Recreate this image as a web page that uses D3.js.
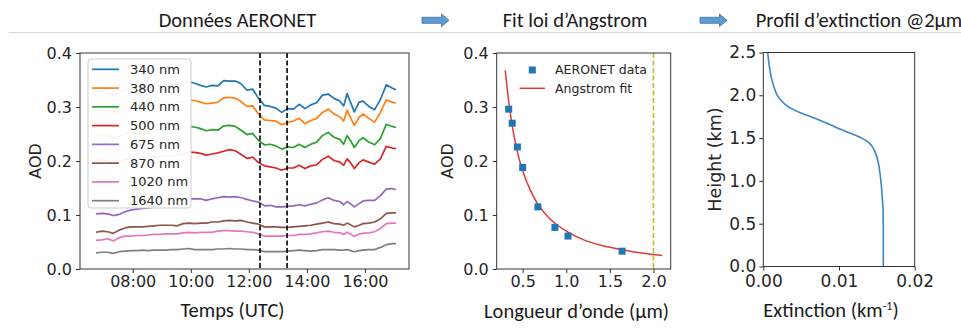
<!DOCTYPE html>
<html>
<head>
<meta charset="utf-8">
<script src="https://cdn.jsdelivr.net/npm/d3@7"></script>
<style>
html,body{margin:0;padding:0;background:#fff;}
svg{display:block;}
</style>
</head>
<body>
<div id="chart"></div>
<script>
// ---------------- DATA ----------------
const headerTitles = ["Données AERONET", "Fit loi d’Angstrom", "Profil d’extinction @2µm"];

const times = ["06:44","06:56","07:08","07:20","07:32","07:44","07:56","08:08","08:20","08:32",
  "08:44","08:56","09:08","09:20","09:32","09:44","09:56","10:08","10:20","10:32",
  "10:44","10:56","11:08","11:20","11:32","11:44","11:56","12:08","12:20","12:32",
  "12:44","12:56","13:08","13:20","13:32","13:44","13:56","14:08","14:20","14:32",
  "14:44","14:56","15:08","15:16","15:23","15:30","15:38","15:48","15:56","16:08",
  "16:20","16:32","16:44","16:56","17:04"];

const seriesNames = ["340 nm","380 nm","440 nm","500 nm","675 nm","870 nm","1020 nm","1640 nm"];

const aod340 = [0.330,0.328,0.326,0.322,0.326,0.331,0.334,0.336,0.337,0.336,0.338,0.340,0.339,0.341,0.342,0.345,0.347,
  0.344,0.340,0.337,0.340,0.339,0.349,0.348,0.348,0.343,0.331,0.333,0.316,0.303,0.301,0.298,0.290,0.297,0.296,
  0.305,0.297,0.304,0.308,0.322,0.324,0.316,0.311,0.302,0.325,0.309,0.291,0.309,0.311,0.301,0.295,0.314,0.341,0.335,0.332];
const aod380 = [0.297,0.295,0.293,0.290,0.293,0.298,0.300,0.302,0.303,0.302,0.304,0.306,0.305,0.307,0.308,0.311,0.313,
  0.312,0.309,0.306,0.307,0.309,0.317,0.318,0.316,0.310,0.301,0.302,0.287,0.276,0.275,0.274,0.267,0.271,0.274,
  0.279,0.269,0.275,0.279,0.290,0.296,0.287,0.282,0.274,0.294,0.281,0.266,0.281,0.287,0.279,0.272,0.290,0.313,0.309,0.307];
const aod440 = [0.250,0.248,0.246,0.243,0.246,0.250,0.252,0.253,0.254,0.253,0.255,0.257,0.256,0.258,0.259,0.261,0.263,
  0.263,0.260,0.256,0.258,0.257,0.265,0.266,0.264,0.257,0.249,0.251,0.238,0.230,0.231,0.228,0.222,0.226,0.225,
  0.231,0.225,0.231,0.235,0.247,0.253,0.244,0.240,0.231,0.247,0.238,0.225,0.238,0.243,0.235,0.230,0.242,0.268,0.264,0.262];
const aod500 = [0.203,0.201,0.200,0.197,0.199,0.203,0.205,0.206,0.207,0.206,0.208,0.209,0.208,0.210,0.211,0.214,0.216,
  0.216,0.214,0.211,0.213,0.215,0.218,0.221,0.219,0.212,0.205,0.207,0.197,0.191,0.189,0.187,0.183,0.187,0.187,
  0.192,0.186,0.191,0.193,0.203,0.209,0.201,0.198,0.192,0.204,0.197,0.186,0.197,0.202,0.198,0.194,0.204,0.227,0.224,0.223];
const aod675 = [0.102,0.103,0.102,0.099,0.101,0.106,0.109,0.111,0.112,0.113,0.115,0.118,0.120,0.122,0.124,0.127,0.130,
  0.130,0.130,0.127,0.130,0.132,0.134,0.133,0.134,0.132,0.129,0.126,0.124,0.117,0.118,0.115,0.115,0.116,0.117,
  0.119,0.117,0.120,0.122,0.128,0.132,0.127,0.125,0.119,0.125,0.121,0.115,0.121,0.126,0.127,0.127,0.136,0.148,0.149,0.147];
const aod870 = [0.068,0.070,0.069,0.066,0.072,0.076,0.078,0.078,0.078,0.079,0.080,0.081,0.081,0.081,0.080,0.084,0.085,
  0.084,0.085,0.085,0.087,0.087,0.089,0.090,0.089,0.090,0.087,0.085,0.083,0.078,0.078,0.078,0.077,0.077,0.078,
  0.079,0.080,0.081,0.083,0.085,0.087,0.084,0.083,0.081,0.085,0.082,0.078,0.081,0.084,0.085,0.087,0.093,0.103,0.104,0.104];
const aod1020 = [0.053,0.054,0.056,0.052,0.058,0.061,0.061,0.062,0.062,0.063,0.064,0.064,0.065,0.065,0.065,0.067,0.068,
  0.067,0.068,0.068,0.068,0.070,0.071,0.071,0.070,0.070,0.069,0.068,0.065,0.061,0.061,0.061,0.061,0.062,0.062,
  0.064,0.064,0.065,0.067,0.069,0.070,0.068,0.067,0.064,0.068,0.065,0.060,0.065,0.066,0.067,0.069,0.075,0.084,0.085,0.085];
const aod1640 = [0.030,0.031,0.031,0.029,0.032,0.033,0.034,0.034,0.035,0.034,0.035,0.035,0.035,0.036,0.036,0.037,0.038,
  0.036,0.036,0.036,0.036,0.037,0.037,0.038,0.037,0.037,0.036,0.036,0.035,0.032,0.032,0.032,0.032,0.033,0.034,
  0.035,0.034,0.033,0.034,0.036,0.036,0.036,0.035,0.035,0.036,0.034,0.032,0.034,0.035,0.036,0.036,0.040,0.045,0.047,0.047];

const seriesColors = ["#1f77b4","#ff7f0e","#2ca02c","#d62728","#9467bd","#8c564b","#e377c2","#7f7f7f"];
const selectionTimes = ["12:23","13:19"];
const timeTicks = ["08:00","10:00","12:00","14:00","16:00"];
const aodTicks = [0.0,0.1,0.2,0.3,0.4];

// Angstrom fit panel
const aeronetLambda = [0.34,0.38,0.44,0.50,0.675,0.87,1.02,1.64];
const aeronetAOD    = [0.296,0.270,0.226,0.188,0.115,0.077,0.061,0.033];
const fitLambda = [0.30,0.35,0.40,0.45,0.50,0.60,0.70,0.80,0.90,1.00,1.20,1.40,1.60,1.80,2.00,2.10];
const fitAOD    = [0.368,0.298,0.248,0.210,0.182,0.142,0.114,0.095,0.081,0.070,0.054,0.044,0.037,0.031,0.027,0.025];
const lambdaTicks = [0.5,1.0,1.5,2.0];
const targetLambda = 2.0;

// Extinction profile panel
const profileHeight = [0.00,0.20,0.40,0.60,0.70,0.80,0.90,1.00,1.10,1.20,1.28,1.35,1.40,1.45,1.50,1.55,1.60,
  1.65,1.70,1.75,1.80,1.85,1.90,1.95,2.00,2.10,2.20,2.30,2.40,2.50];
const profileExt = [0.01585,0.01585,0.01585,0.01583,0.01580,0.01572,0.01564,0.01553,0.01540,0.01522,0.01500,
  0.01470,0.01440,0.01390,0.01300,0.01170,0.01030,0.00900,0.00770,0.00630,0.00480,0.00360,0.00280,0.00225,
  0.00185,0.00140,0.00108,0.00087,0.00071,0.00058];
const heightTicks = [0.0,0.5,1.0,1.5,2.0,2.5];
const extTicks = [0.00,0.01,0.02];

// ---------------- DRAW ----------------
const W = 961, H = 331;
const mplFont = "'DejaVu Sans', sans-serif";
const officeFont = "Carlito, Calibri, Lato, 'Open Sans', sans-serif";
const ink = "#262626";

const svg = d3.select("#chart").append("svg").attr("width", W).attr("height", H)
  .style("background", "#fff");

// header
const hdrX = [237.5, 575, 859];
svg.selectAll("text.hdr").data(headerTitles).join("text")
  .attr("class","hdr")
  .attr("x",(d,i)=>hdrX[i]).attr("y",26.5)
  .attr("text-anchor","middle")
  .attr("font-family",officeFont).attr("font-size",20.5).attr("fill","#1a1a1a")
  .text(d=>d);
svg.append("line").attr("x1",9).attr("x2",961).attr("y1",32.5).attr("y2",32.5)
  .attr("stroke","#d9d9d9").attr("stroke-width",1);
function arrow(x0){
  const x1 = x0+27, hx = x0+19.5, yc = 20.3;
  const pts = [[x0,yc-3],[hx,yc-3],[hx,yc-6.3],[x1,yc],[hx,yc+6.3],[hx,yc+3],[x0,yc+3]];
  svg.append("polygon").attr("points",pts.map(p=>p.join(",")).join(" "))
    .attr("fill","#5b9bd5").attr("stroke","#41719c").attr("stroke-width",0.8);
}
arrow(422); arrow(700);

function styleAxis(g, fontSize){
  g.selectAll(".domain").remove();
  g.selectAll(".tick line").attr("stroke","#333").attr("stroke-width",1);
  g.selectAll(".tick text").attr("font-family",mplFont).attr("font-size",fontSize).attr("fill",ink);
}
function frame(x0,x1,y0,y1){
  svg.append("rect").attr("x",x0).attr("y",y0).attr("width",x1-x0).attr("height",y1-y0)
    .attr("fill","none").attr("stroke","#333").attr("stroke-width",1);
}

// ---------- Panel 1: AERONET time series ----------
const parseT = d3.timeParse("%H:%M");
const p1 = {x0:80, x1:409, y0:53, y1:269};
const xT = d3.scaleTime().domain([parseT("06:11"), parseT("17:31")]).range([p1.x0,p1.x1]);
const yA = d3.scaleLinear().domain([0,0.4]).range([p1.y1,p1.y0]);
const tDates = times.map(parseT);
const allSeries = [aod340,aod380,aod440,aod500,aod675,aod870,aod1020,aod1640];

const line1 = d3.line().x((d,i)=>xT(tDates[i])).y(d=>yA(d));
const g1 = svg.append("g");
g1.selectAll("path.ts").data(allSeries).join("path")
  .attr("class","ts").attr("d",d=>line1(d)).attr("fill","none")
  .attr("stroke",(d,i)=>seriesColors[i]).attr("stroke-width",1.7).attr("stroke-linejoin","round");

g1.selectAll("line.sel").data(selectionTimes).join("line")
  .attr("class","sel")
  .attr("x1",d=>xT(parseT(d))).attr("x2",d=>xT(parseT(d)))
  .attr("y1",p1.y0).attr("y2",p1.y1)
  .attr("stroke","#000").attr("stroke-width",1.6).attr("stroke-dasharray","5,2.5");

frame(p1.x0,p1.x1,p1.y0,p1.y1);
const ax1x = svg.append("g").attr("transform",`translate(0,${p1.y1})`)
  .call(d3.axisBottom(xT).tickValues(timeTicks.map(parseT)).tickFormat(d3.timeFormat("%H:%M")).tickSize(4).tickPadding(3));
styleAxis(ax1x,16);
const ax1y = svg.append("g").attr("transform",`translate(${p1.x0},0)`)
  .call(d3.axisLeft(yA).tickValues(aodTicks).tickFormat(d3.format(".1f")).tickSize(4).tickPadding(4));
styleAxis(ax1y,16);

// legend
const lg = svg.append("g");
lg.append("rect").attr("x",88).attr("y",59).attr("width",103).attr("height",149)
  .attr("rx",3).attr("fill","#fff").attr("fill-opacity",0.94).attr("stroke","#cccccc");
seriesNames.forEach((n,i)=>{
  const yy = 69.3 + i*18.77;
  lg.append("line").attr("x1",92).attr("x2",119).attr("y1",yy).attr("y2",yy)
    .attr("stroke",seriesColors[i]).attr("stroke-width",1.7);
  lg.append("text").attr("x",130).attr("y",yy).attr("dy","0.35em")
    .attr("font-family",mplFont).attr("font-size",13).attr("fill",ink).text(n);
});

svg.append("text").attr("transform",`translate(35,161) rotate(-90)`)
  .attr("text-anchor","middle").attr("dy","0.35em")
  .attr("font-family",mplFont).attr("font-size",16).attr("fill",ink).text("AOD");
svg.append("text").attr("x",232.5).attr("y",317).attr("text-anchor","middle")
  .attr("font-family",officeFont).attr("font-size",20.5).attr("fill","#1a1a1a").text("Temps (UTC)");

// ---------- Panel 2: Angstrom fit ----------
const p2 = {x0:496.7, x1:670.7, y0:53, y1:269};
const xL = d3.scaleLinear().domain([0.2025,2.1975]).range([p2.x0,p2.x1]);
const yB = d3.scaleLinear().domain([0,0.4]).range([p2.y1,p2.y0]);

svg.append("line").attr("x1",xL(targetLambda)).attr("x2",xL(targetLambda))
  .attr("y1",p2.y0).attr("y2",p2.y1)
  .attr("stroke","#bcbd22").attr("stroke-width",1.6).attr("stroke-dasharray","5,2.5");

const fitLine = d3.line().curve(d3.curveMonotoneX).x((d,i)=>xL(fitLambda[i])).y(d=>yB(d));
svg.append("path").attr("d",fitLine(fitAOD)).attr("fill","none")
  .attr("stroke","#e0393b").attr("stroke-width",1.5);

const sq = 7;
svg.selectAll("rect.pt").data(aeronetAOD).join("rect").attr("class","pt")
  .attr("x",(d,i)=>xL(aeronetLambda[i])-sq/2).attr("y",d=>yB(d)-sq/2)
  .attr("width",sq).attr("height",sq).attr("fill","#1f77b4");

frame(p2.x0,p2.x1,p2.y0,p2.y1);
const ax2x = svg.append("g").attr("transform",`translate(0,${p2.y1})`)
  .call(d3.axisBottom(xL).tickValues(lambdaTicks).tickFormat(d3.format(".1f")).tickSize(4).tickPadding(3));
styleAxis(ax2x,16);
const ax2y = svg.append("g").attr("transform",`translate(${p2.x0},0)`)
  .call(d3.axisLeft(yB).tickValues(aodTicks).tickFormat(d3.format(".1f")).tickSize(4).tickPadding(4));
styleAxis(ax2y,16);

// legend panel 2
svg.append("rect").attr("x",532.3-sq/2).attr("y",70-sq/2).attr("width",sq).attr("height",sq).attr("fill","#1f77b4");
svg.append("line").attr("x1",519.5).attr("x2",545).attr("y1",88.3).attr("y2",88.3)
  .attr("stroke","#e0393b").attr("stroke-width",1.5);
svg.append("text").attr("x",555).attr("y",70).attr("dy","0.35em")
  .attr("font-family",mplFont).attr("font-size",12.5).attr("fill",ink).text("AERONET data");
svg.append("text").attr("x",555).attr("y",88.3).attr("dy","0.35em")
  .attr("font-family",mplFont).attr("font-size",12.5).attr("fill",ink).text("Angstrom fit");

svg.append("text").attr("transform",`translate(447.5,161) rotate(-90)`)
  .attr("text-anchor","middle").attr("dy","0.35em")
  .attr("font-family",mplFont).attr("font-size",16).attr("fill",ink).text("AOD");
svg.append("text").attr("x",576.5).attr("y",318).attr("text-anchor","middle")
  .attr("font-family",officeFont).attr("font-size",20.5).attr("fill","#1a1a1a").text("Longueur d’onde (µm)");

// ---------- Panel 3: extinction profile ----------
const p3 = {x0:763.3, x1:914.7, y0:52.5, y1:266.5};
const xE = d3.scaleLinear().domain([0,0.02]).range([p3.x0,p3.x1]);
const yH = d3.scaleLinear().domain([0,2.5]).range([p3.y1,p3.y0]);

const profLine = d3.line().curve(d3.curveMonotoneY).x(d=>xE(d)).y((d,i)=>yH(profileHeight[i]));
svg.append("path").attr("d",profLine(profileExt)).attr("fill","none")
  .attr("stroke","#3a86c3").attr("stroke-width",1.6);

frame(p3.x0,p3.x1,p3.y0,p3.y1);
const ax3x = svg.append("g").attr("transform",`translate(0,${p3.y1})`)
  .call(d3.axisBottom(xE).tickValues(extTicks).tickFormat(d3.format(".2f")).tickSize(4).tickPadding(4));
styleAxis(ax3x,17);
const ax3y = svg.append("g").attr("transform",`translate(${p3.x0},0)`)
  .call(d3.axisLeft(yH).tickValues(heightTicks).tickFormat(d3.format(".1f")).tickSize(4).tickPadding(3));
styleAxis(ax3y,17);

svg.append("text").attr("transform",`translate(715,159.5) rotate(-90)`)
  .attr("text-anchor","middle").attr("dy","0.35em")
  .attr("font-family",mplFont).attr("font-size",17.5).attr("fill",ink).text("Height (km)");
const xl3 = svg.append("text").attr("x",831).attr("y",317).attr("text-anchor","middle")
  .attr("font-family",officeFont).attr("font-size",20.5).attr("fill","#1a1a1a");
xl3.append("tspan").text("Extinction (km");
xl3.append("tspan").attr("font-size",12).attr("dy",-7.5).text("-1");
xl3.append("tspan").attr("dy",7.5).text(")");
</script>
</body>
</html>
